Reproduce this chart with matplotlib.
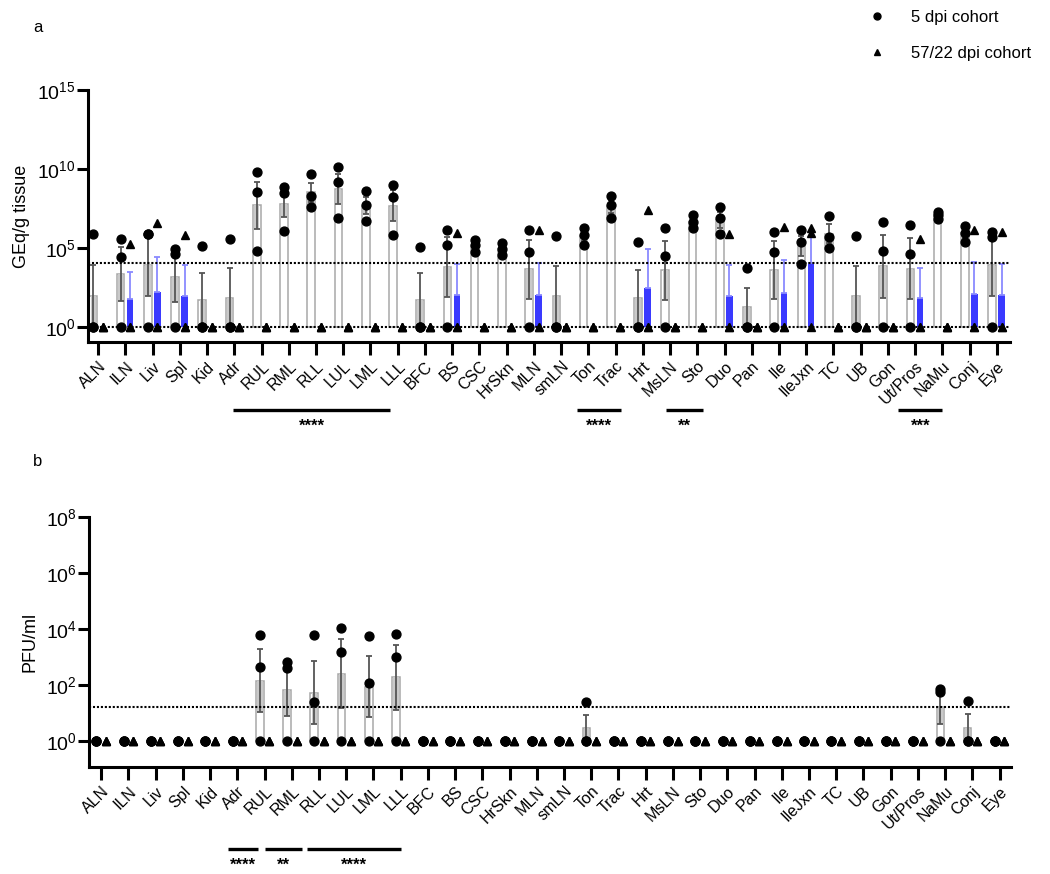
import numpy as np
import matplotlib
matplotlib.use("Agg")
import matplotlib.pyplot as plt
import matplotlib.transforms as mtrans
from matplotlib.lines import Line2D
from matplotlib.ticker import NullLocator, FixedLocator

plt.rcParams['font.family'] = ['Liberation Sans', 'DejaVu Sans']
plt.rcParams['mathtext.default'] = 'regular'

# ---------------- data ----------------
tissues = ["ALN", "ILN", "Liv", "Spl", "Kid", "Adr", "RUL", "RML", "RLL", "LUL", "LML", "LLL",
           "BFC", "BS", "CSC", "HrSkn", "MLN", "smLN", "Ton", "Trac", "Hrt", "MsLN", "Sto", "Duo",
           "Pan", "Ile", "IleJxn", "TC", "UB", "Gon", "Ut/Pros", "NaMu", "Conj", "Eye"]

# panel a: log10 GEq/g tissue per animal (0 -> 10^0, not detected)
geq_5dpi_log10 = [
    [5.85, 0, 0], [5.54, 4.44, 0], [5.85, 5.85, 0], [4.9, 4.6, 0], [5.11, 0, 0], [5.54, 0, 0],
    [9.78, 8.52, 4.8], [8.83, 8.49, 6.06], [9.68, 8.3, 7.6], [10.1, 9.19, 6.87], [8.62, 7.71, 6.7],
    [8.98, 8.24, 5.81], [5.07, 0, 0], [6.13, 5.2, 0], [5.49, 5.18, 4.75], [5.28, 4.92, 4.54],
    [6.13, 4.75, 0], [5.75, 0, 0], [6.23, 5.81, 5.18], [8.28, 7.71, 6.9], [5.39, 0, 0],
    [6.23, 4.48, 0], [7.08, 6.65, 6.23], [7.57, 6.87, 5.87], [3.7, 0, 0], [6.02, 4.75, 0],
    [6.1, 5.35, 3.95], [7.01, 5.66, 4.97], [5.75, 0, 0], [6.65, 4.8, 0], [6.44, 4.59, 0],
    [7.29, 7.08, 6.84], [6.4, 5.96, 5.39], [6.02, 5.7, 0]]
geq_late_log10 = [
    [0, 0, 0], [5.22, 0, 0], [6.59, 0, 0], [5.83, 0, 0], [0, 0, 0], [0, 0, 0],
    [0, 0, 0], [0, 0, 0], [0, 0, 0], [0, 0, 0], [0, 0, 0],
    [0, 0, 0], [0, 0, 0], [5.96, 0, 0], [0, 0, 0], [0, 0, 0],
    [6.1, 0, 0], [0, 0, 0], [0, 0, 0], [0, 0, 0], [7.4, 0, 0],
    [0, 0, 0], [0, 0, 0], [5.87, 0, 0], [0, 0, 0], [6.34, 0, 0],
    [6.23, 5.92, 0], [0, 0, 0], [0, 0, 0], [0, 0, 0], [5.54, 0, 0],
    [0, 0, 0], [6.13, 0, 0], [5.98, 0, 0]]

# panel b: log10 PFU/ml per animal
pfu_5dpi_log10 = [
    [0, 0, 0], [0, 0, 0], [0, 0, 0], [0, 0, 0], [0, 0, 0], [0, 0, 0],
    [3.8, 2.64, 0], [2.82, 2.62, 0], [3.8, 1.39, 0], [4.04, 3.16, 0], [3.74, 2.07, 0],
    [3.83, 3.0, 0], [0, 0, 0], [0, 0, 0], [0, 0, 0], [0, 0, 0],
    [0, 0, 0], [0, 0, 0], [1.39, 0, 0], [0, 0, 0], [0, 0, 0],
    [0, 0, 0], [0, 0, 0], [0, 0, 0], [0, 0, 0], [0, 0, 0],
    [0, 0, 0], [0, 0, 0], [0, 0, 0], [0, 0, 0], [0, 0, 0],
    [1.85, 1.75, 0], [1.42, 0, 0], [0, 0, 0]]
pfu_late_log10 = [
    [0, 0, 0], [0, 0, 0], [0, 0, 0], [0, 0, 0], [0, 0, 0], [0, 0, 0],
    [0, 0, 0], [0, 0, 0], [0, 0, 0], [0, 0, 0], [0, 0, 0],
    [0, 0, 0], [0, 0, 0], [0, 0, 0], [0, 0, 0], [0, 0, 0],
    [0, 0, 0], [0, 0, 0], [0, 0, 0], [0, 0, 0], [0, 0, 0],
    [0, 0, 0], [0, 0, 0], [0, 0, 0], [0, 0, 0], [0, 0, 0],
    [0, 0, 0], [0, 0, 0], [0, 0, 0], [0, 0, 0], [0, 0, 0],
    [0, 0, 0], [0, 0, 0], [0, 0, 0]]

lod_geq = 1.05e4
lod_pfu = 17.0

# significance brackets: (start, end) in category units, label
sig_a = [(4.96, 10.72, "****"), (17.6, 19.2, "****"), (20.84, 22.2, "**"), (29.38, 31.0, "***")]
sig_b = [(4.64, 5.76, "****"), (6.0, 7.39, "**"), (7.54, 11.0, "****")]

series_labels = ["5 dpi cohort", "57/22 dpi cohort"]

# ---------------- drawing ----------------
W, H = 1050, 874
fig = plt.figure(figsize=(W / 100, H / 100), dpi=100)

def fbox(l, t, r, b):
    return [l / W, 1 - b / H, (r - l) / W, (b - t) / H]

ax_a = fig.add_axes(fbox(88, 90, 1010, 342))
ax_b = fig.add_axes(fbox(89, 517, 1011, 767))

OFF = 0.175
GREY_EDGE = '#a8a8a8'
SHADE = '#c9c9c9'
ERR = '#555555'
BLUE = '#3a3aff'
BLUE_ERR = '#8a8aff'


def draw_panel(ax, early, late, lod, zero_line):
    x = np.arange(len(tissues))
    for i in range(len(tissues)):
        for vals, dx, is_early in ((early[i], -OFF, True), (late[i], OFF, False)):
            v = np.array(vals, float)
            m = v.mean()
            s = v.std(ddof=1) / np.sqrt(len(v))
            xc = x[i] + dx
            if m > 0:
                top = 10 ** m
                lo = 10 ** max(m - s, 0)
                hi = 10 ** (m + s)
                if is_early:
                    ax.bar(xc, top - 1, bottom=1, width=0.28, facecolor='white',
                           edgecolor=GREY_EDGE, linewidth=1.1, zorder=2)
                    ax.bar(xc, top - lo, bottom=lo, width=0.2, color=SHADE,
                           linewidth=0, zorder=2.5)
                    ax.errorbar(xc, top, yerr=[[top - lo], [hi - top]], fmt='none',
                                ecolor=ERR, elinewidth=1.3, capsize=2, capthick=1.3, zorder=3)
                else:
                    ax.bar(xc, top - 1, bottom=1, width=0.24, color=BLUE,
                           linewidth=0, zorder=2)
                    ax.errorbar(xc, top, yerr=[[0], [hi - top]], fmt='none',
                                ecolor=BLUE_ERR, elinewidth=1.3, capsize=2, capthick=1.3, zorder=3)
            ax.plot(np.full(len(v), xc), 10 ** v, ls='none',
                    marker='o' if is_early else '^', color='black',
                    ms=6.4 if is_early else 5.8, zorder=5, clip_on=False)
    ax.axhline(lod, color='black', ls=(0, (1, 0.9)), lw=1.5, zorder=4)
    if zero_line:
        ax.axhline(1, color='black', ls=(0, (1, 0.9)), lw=1.5, zorder=4)

    ax.set_yscale('log')
    ax.set_xticks(x)
    ax.set_xticklabels(tissues, rotation=45, ha='right', rotation_mode='anchor', fontsize=11.5)
    ax.yaxis.set_minor_locator(NullLocator())
    for side in ('top', 'right'):
        ax.spines[side].set_visible(False)
    for side in ('left', 'bottom'):
        ax.spines[side].set_linewidth(2.2)
    ax.tick_params(axis='x', length=9, width=2.2, pad=3)
    ax.tick_params(axis='y', length=8, width=2.2, pad=1, labelsize=14)


draw_panel(ax_a, geq_5dpi_log10, geq_late_log10, lod_geq, True)
ax_a.set_ylim(10 ** -0.97, 1e15)
ax_a.yaxis.set_major_locator(FixedLocator([1, 1e5, 1e10, 1e15]))
ax_a.set_xlim(-0.37, 33.48)
ax_a.set_ylabel("GEq/g tissue", fontsize=13, labelpad=5)

draw_panel(ax_b, pfu_5dpi_log10, pfu_late_log10, lod_pfu, False)
ax_b.set_ylim(10 ** -0.93, 1e8)
ax_b.yaxis.set_major_locator(FixedLocator([1, 1e2, 1e4, 1e6, 1e8]))
ax_b.set_xlim(-0.45, 33.42)
ax_b.set_ylabel("PFU/ml", fontsize=13, labelpad=5)


def sig(ax, items, y_line, y_text):
    tr = mtrans.blended_transform_factory(ax.transData, fig.transFigure)
    for x0, x1, lab in items:
        fig.add_artist(Line2D([x0, x1], [1 - y_line / H] * 2, transform=tr,
                              color='black', lw=2.4, solid_capstyle='butt'))
        fig.text((x0 + x1) / 2, 1 - y_text / H, lab, transform=tr, ha='center',
                 va='center', fontsize=12, fontweight='bold')


sig(ax_a, sig_a, 410, 426)
sig(ax_b, sig_b, 849, 865)

fig.text(38 / W, 1 - 27 / H, "a", fontsize=12, ha='center', va='center')
fig.text(38 / W, 1 - 462 / H, "b", fontsize=12, ha='center', va='center')

handles = [Line2D([], [], ls='none', marker='o', color='black', ms=5),
           Line2D([], [], ls='none', marker='^', color='black', ms=4.5)]
fig.legend(handles, series_labels, loc='upper left', bbox_to_anchor=(869 / W, 1 - 10 / H),
           frameon=False, fontsize=12, handlelength=1.0, handletextpad=1.5,
           labelspacing=1.25, borderpad=0, borderaxespad=0)

fig.savefig("out.png", dpi=100)
